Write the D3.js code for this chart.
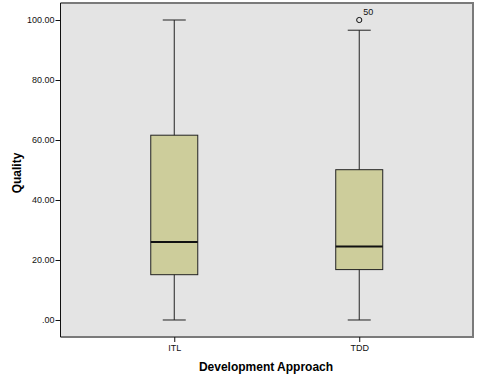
<!DOCTYPE html>
<html>
<head>
<meta charset="utf-8">
<script src="https://cdn.jsdelivr.net/npm/d3@7"></script>
<style>
  body { margin: 0; background: #fff; }
  text { font-family: "Liberation Sans", Arial, sans-serif; }
</style>
</head>
<body>
<svg id="chart" width="477" height="382"></svg>
<script>
// 箱线图数据
var categories = ["ITL", "TDD"];
var whiskerLow = [0, 0];
var q1 = [15.1, 16.8];
var medians = [26, 24.5];
var q3 = [61.6, 50.1];
var whiskerHigh = [100, 96.6];
var outliers = [{ cat: "TDD", value: 100, label: "50" }];
var yTicks = [0, 20, 40, 60, 80, 100];

var svg = d3.select("#chart");
// 注意：不能用 top 作全局变量名（window.top 只读）
var plotLeft = 60.5, plotRight = 473, plotTop = 3, plotBottom = 337;

var x = d3.scalePoint()
  .domain(categories)
  .range([plotLeft, plotRight])
  .padding(0.615);

var y = d3.scaleLinear()
  .domain([-5.67, 105.67])
  .range([plotBottom, plotTop]);

// 背景
svg.append("rect")
  .attr("x", plotLeft).attr("y", plotTop)
  .attr("width", plotRight - plotLeft).attr("height", plotBottom - plotTop)
  .attr("fill", "#e4e4e4");

var boxW = 47, capW = 23;

var boxes = categories.map(function (c, i) {
  return { cat: c, lo: whiskerLow[i], q1: q1[i], med: medians[i], q3: q3[i], hi: whiskerHigh[i] };
});

var g = svg.selectAll("g.box").data(boxes).enter().append("g").attr("class", "box");

// 须线
g.append("line")
  .attr("x1", function (d) { return x(d.cat); })
  .attr("x2", function (d) { return x(d.cat); })
  .attr("y1", function (d) { return y(d.hi); })
  .attr("y2", function (d) { return y(d.lo); })
  .attr("stroke", "#222").attr("stroke-width", 1);

g.selectAll("line.cap").data(function (d) { return [[d.cat, d.lo], [d.cat, d.hi]]; })
  .enter().append("line").attr("class", "cap")
  .attr("x1", function (d) { return x(d[0]) - capW / 2; })
  .attr("x2", function (d) { return x(d[0]) + capW / 2; })
  .attr("y1", function (d) { return y(d[1]); })
  .attr("y2", function (d) { return y(d[1]); })
  .attr("stroke", "#222").attr("stroke-width", 1);

// 箱体
g.append("rect")
  .attr("x", function (d) { return x(d.cat) - boxW / 2; })
  .attr("y", function (d) { return y(d.q3); })
  .attr("width", boxW)
  .attr("height", function (d) { return y(d.q1) - y(d.q3); })
  .attr("fill", "#cdcd9b")
  .attr("stroke", "#222").attr("stroke-width", 1);

// 中位数
g.append("line")
  .attr("x1", function (d) { return x(d.cat) - boxW / 2; })
  .attr("x2", function (d) { return x(d.cat) + boxW / 2; })
  .attr("y1", function (d) { return y(d.med); })
  .attr("y2", function (d) { return y(d.med); })
  .attr("stroke", "#111").attr("stroke-width", 2);

// 离群点
svg.selectAll("circle.out").data(outliers).enter().append("circle")
  .attr("class", "out")
  .attr("cx", function (d) { return x(d.cat); })
  .attr("cy", function (d) { return y(d.value); })
  .attr("r", 2.6)
  .attr("fill", "none").attr("stroke", "#111").attr("stroke-width", 1);

svg.selectAll("text.outlab").data(outliers).enter().append("text")
  .attr("class", "outlab")
  .attr("x", function (d) { return x(d.cat) + 4; })
  .attr("y", function (d) { return y(d.value) - 5; })
  .attr("font-size", 9).attr("fill", "#111")
  .text(function (d) { return d.label; });

// 边框（上、右、下为灰色）
svg.append("path")
  .attr("d", "M" + plotLeft + "," + plotTop + "H" + plotRight + "V" + plotBottom + "H" + plotLeft)
  .attr("fill", "none").attr("stroke", "#7a7a7a").attr("stroke-width", 2);

// y 轴
var yAxis = d3.axisLeft(y).tickValues(yTicks).tickSize(5).tickPadding(1)
  .tickFormat(function (d) { return d === 0 ? ".00" : d3.format(".2f")(d); });
var ya = svg.append("g").attr("transform", "translate(" + plotLeft + ",0)").call(yAxis);
ya.select(".domain").attr("d", "M0," + plotTop + "V" + plotBottom).attr("stroke", "#111");
ya.selectAll("line").attr("stroke", "#111");
ya.selectAll("text").attr("font-size", 9).attr("fill", "#111")
  .style("font-family", "'Liberation Sans', Arial, sans-serif");

// x 轴
var xAxis = d3.axisBottom(x).tickSize(5).tickPadding(3);
var xa = svg.append("g").attr("transform", "translate(0," + plotBottom + ")").call(xAxis);
xa.select(".domain").remove();
xa.selectAll("line").attr("stroke", "#111");
xa.selectAll("text").attr("font-size", 9).attr("fill", "#111")
  .style("font-family", "'Liberation Sans', Arial, sans-serif");

// 轴标题
svg.append("text")
  .attr("x", 266).attr("y", 371)
  .attr("text-anchor", "middle")
  .attr("font-size", 12).attr("font-weight", "bold")
  .text("Development Approach");

svg.append("text")
  .attr("transform", "translate(21,173) rotate(-90)")
  .attr("text-anchor", "middle")
  .attr("font-size", 12).attr("font-weight", "bold")
  .text("Quality");
</script>
</body>
</html>
